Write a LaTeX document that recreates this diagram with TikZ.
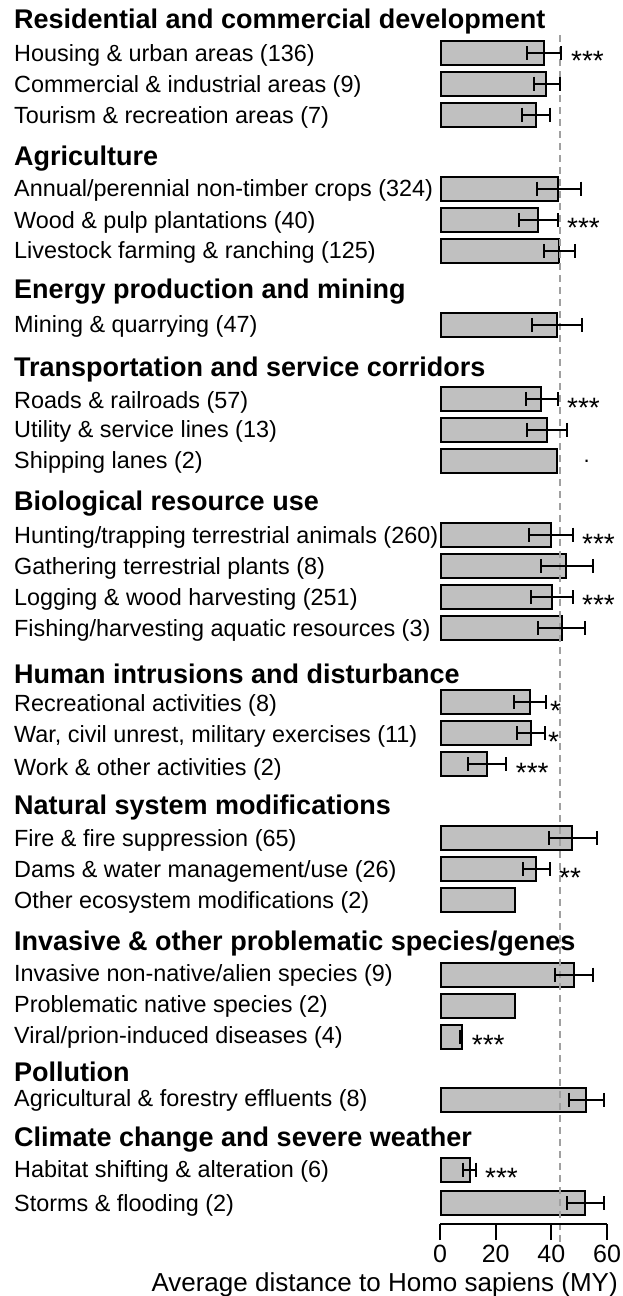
\documentclass[tikz,border=0pt]{standalone}
\usepackage{fontspec}
\setmainfont{Liberation Sans}
\definecolor{barfill}{HTML}{C0C0C0}
\definecolor{refgray}{HTML}{A0A0A0}
\tikzset{
  hdr/.style={anchor=base west, inner sep=0pt, font=\fontsize{27}{30}\selectfont\bfseries},
  itm/.style={anchor=base west, inner sep=0pt, font=\fontsize{23.4}{27}\selectfont},
  sig/.style={anchor=base west, inner sep=0pt, font=\fontsize{28}{31}\selectfont},
  dotmark/.style={anchor=base west, inner sep=0pt, font=\fontsize{22}{25}\selectfont},
  ticklab/.style={anchor=base, inner sep=0pt, font=\fontsize{25}{28}\selectfont},
  axtitle/.style={anchor=base east, inner sep=0pt, font=\fontsize{26}{29}\selectfont},
  barbox/.style={draw=black, line width=2pt, fill=barfill},
  errbar/.style={draw=black, line width=2pt},
  refline/.style={draw=refgray, line width=2pt, dash pattern=on 7pt off 5pt},
  axisline/.style={draw=black, line width=2pt},
}
\begin{document}
\begin{tikzpicture}[x=1pt,y=-1pt]
\fill[white] (0,0) rectangle (623,1296);
\useasboundingbox (0,0) rectangle (623,1296);

% headers
\node[hdr] (h1) at (14,28) {Residential and commercial development};
\node[hdr] (h2) at (14,165) {Agriculture};
\node[hdr] (h3) at (14,298.3) {Energy production and mining};
\node[hdr] (h4) at (14,376) {Transportation and service corridors};
\node[hdr] (h5) at (14,510) {Biological resource use};
\node[hdr] (h6) at (14,683) {Human intrusions and disturbance};
\node[hdr] (h7) at (14,814) {Natural system modifications};
\node[hdr] (h8) at (14,950) {Invasive \& other problematic species/genes};
\node[hdr] (h9) at (14,1081.7) {Pollution};
\node[hdr] (h10) at (14,1146.5) {Climate change and severe weather};

% items
\node[itm] (i1) at (14,61) {Housing \& urban areas (136)};
\node[itm] (i2) at (14,92) {Commercial \& industrial areas (9)};
\node[itm] (i3) at (14,123) {Tourism \& recreation areas (7)};
\node[itm] (i4) at (14,196.5) {Annual/perennial non-timber crops (324)};
\node[itm] (i5) at (14,228) {Wood \& pulp plantations (40)};
\node[itm] (i6) at (14,258.8) {Livestock farming \& ranching (125)};
\node[itm] (i7) at (14,332.5) {Mining \& quarrying (47)};
\node[itm] (i8) at (14,408.5) {Roads \& railroads (57)};
\node[itm] (i9) at (14,437.5) {Utility \& service lines (13)};
\node[itm] (i10) at (14,468) {Shipping lanes (2)};
\node[itm] (i11) at (14,543) {Hunting/trapping terrestrial animals (260)};
\node[itm] (i12) at (14,574) {Gathering terrestrial plants (8)};
\node[itm] (i13) at (14,605) {Logging \& wood harvesting (251)};
\node[itm] (i14) at (14,636) {Fishing/harvesting aquatic resources (3)};
\node[itm] (i15) at (14,711.7) {Recreational activities (8)};
\node[itm] (i16) at (14,742.5) {War, civil unrest, military exercises (11)};
\node[itm] (i17) at (14,775) {Work \& other activities (2)};
\node[itm] (i18) at (14,846) {Fire \& fire suppression (65)};
\node[itm] (i19) at (14,877.3) {Dams \& water management/use (26)};
\node[itm] (i20) at (14,908.3) {Other ecosystem modifications (2)};
\node[itm] (i21) at (14,981.7) {Invasive non-native/alien species (9)};
\node[itm] (i22) at (14,1012.7) {Problematic native species (2)};
\node[itm] (i23) at (14,1043.3) {Viral/prion-induced diseases (4)};
\node[itm] (i24) at (14,1106.7) {Agricultural \& forestry effluents (8)};
\node[itm] (i25) at (14,1177.5) {Habitat shifting \& alteration (6)};
\node[itm] (i26) at (14,1211) {Storms \& flooding (2)};

% bars
\foreach \yc/\r in {53/544, 83.7/546.3, 114.7/536.3, 188.7/558.3, 220.2/538, 250.8/559,
  324.8/556.7, 398.8/541.3, 429.8/547, 461.2/556.7, 534.5/550.7, 565.8/566.3,
  597.2/551.7, 628/561.7, 701.8/529.7, 733.2/530.7, 764.2/486.7, 838/572.3,
  869.2/536.3, 900.3/515, 974.5/573.7, 1005.5/515, 1036.7/461.7, 1099.8/585.7,
  1169.5/469.7, 1203.4/584.7}
  \draw[barbox] (440.5,\yc-12) rectangle (\r,\yc+12);

% reference line
\coordinate (reftop) at (560,35);
\coordinate (refbot) at (560,1247);
\draw[refline] (reftop) -- (refbot);

% error bars
\foreach \yc/\lo/\hi in {53/527.3/561.3, 83.7/534.3/560, 114.7/521.7/550,
  188.7/537.3/580.7, 220.2/518.7/557.7, 250.8/544/575.3, 324.8/532.3/582,
  398.8/526/557.7, 429.8/527.3/567, 534.5/529/573.3, 565.8/541.3/592.7,
  597.2/531/573.3, 628/538/585.3, 701.8/513.7/546, 733.2/516.7/544.7,
  764.2/468.3/506, 838/548.7/596.7, 869.2/523.3/550, 974.5/555.3/592.7,
  1036.7/459.5/461, 1099.8/569/604, 1169.5/463.3/476, 1203.4/566.7/604.3}
  \draw[errbar] (\lo,\yc) -- (\hi,\yc) (\lo,\yc-7) -- (\lo,\yc+7) (\hi,\yc-7) -- (\hi,\yc+7);

% significance marks
\node[sig] (s1) at (571,70.5) {***};
\node[sig] (s5) at (567,237.5) {***};
\node[sig] (s8) at (567,417.2) {***};
\node[dotmark] (s10) at (583.5,462) {.};
\node[sig] (s11) at (582,553.5) {***};
\node[sig] (s13) at (582,614.8) {***};
\node[sig] (s15) at (550,720.5) {*};
\node[sig] (s16) at (548,751.5) {*};
\node[sig] (s17) at (515.7,782.8) {***};
\node[sig] (s19) at (559,887.2) {**};
\node[sig] (s23) at (471.7,1054.8) {***};
\node[sig] (s25) at (485,1187.2) {***};

% axis
\coordinate (ax0) at (440,1224);
\coordinate (ax60) at (607,1224);
\draw[axisline] (ax0) -- (ax60);
\foreach \tx/\tl in {440/0, 495.7/20, 551.3/40, 607/60} {
  \draw[axisline] (\tx,1224) -- (\tx,1240);
  \node[ticklab] (t\tl) at (\tx,1262) {\tl};
}
\node[axtitle] (xtitle) at (618,1291.7) {Average distance to Homo sapiens (MY)};
\end{tikzpicture}
\end{document}
